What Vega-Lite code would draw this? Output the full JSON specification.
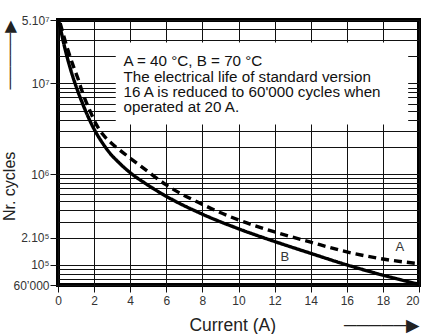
{
  "$schema": "https://vega.github.io/schema/vega-lite/v6.json",
  "width": 361,
  "height": 265,
  "autosize": "none",
  "padding": {"left": 58, "top": 20, "right": 3, "bottom": 49},
  "config": {
    "view": {"stroke": "#000", "strokeWidth": 4},
    "font": "Liberation Sans",
    "axis": {"labelOverlap": false}
  },
  "datasets": {
    "curves": [
      {"current": 0.03, "cycles": 50000000, "curve": "B"},
      {"current": 0.19, "cycles": 35900000, "curve": "B"},
      {"current": 0.36, "cycles": 25400000, "curve": "B"},
      {"current": 0.58, "cycles": 17200000, "curve": "B"},
      {"current": 0.82, "cycles": 11900000, "curve": "B"},
      {"current": 1.08, "cycles": 8400000, "curve": "B"},
      {"current": 1.38, "cycles": 5860000, "curve": "B"},
      {"current": 1.69, "cycles": 4200000, "curve": "B"},
      {"current": 2.02, "cycles": 3080000, "curve": "B"},
      {"current": 2.41, "cycles": 2290000, "curve": "B"},
      {"current": 2.86, "cycles": 1720000, "curve": "B"},
      {"current": 3.41, "cycles": 1320000, "curve": "B"},
      {"current": 3.97, "cycles": 1050000, "curve": "B"},
      {"current": 4.8, "cycles": 800000, "curve": "B"},
      {"current": 6, "cycles": 570000, "curve": "B"},
      {"current": 8, "cycles": 362000, "curve": "B"},
      {"current": 10, "cycles": 250000, "curve": "B"},
      {"current": 12, "cycles": 181000, "curve": "B"},
      {"current": 14, "cycles": 134000, "curve": "B"},
      {"current": 16, "cycles": 100000, "curve": "B"},
      {"current": 18, "cycles": 77000, "curve": "B"},
      {"current": 20, "cycles": 61000, "curve": "B"},
      {"current": 0.12, "cycles": 46000000, "curve": "A"},
      {"current": 0.54, "cycles": 23600000, "curve": "A"},
      {"current": 0.82, "cycles": 16100000, "curve": "A"},
      {"current": 1.1, "cycles": 11400000, "curve": "A"},
      {"current": 1.38, "cycles": 7730000, "curve": "A"},
      {"current": 1.75, "cycles": 5100000, "curve": "A"},
      {"current": 2.12, "cycles": 3540000, "curve": "A"},
      {"current": 2.48, "cycles": 2750000, "curve": "A"},
      {"current": 2.95, "cycles": 2200000, "curve": "A"},
      {"current": 3.41, "cycles": 1850000, "curve": "A"},
      {"current": 4, "cycles": 1500000, "curve": "A"},
      {"current": 5, "cycles": 1060000, "curve": "A"},
      {"current": 6, "cycles": 760000, "curve": "A"},
      {"current": 8, "cycles": 464000, "curve": "A"},
      {"current": 10, "cycles": 313000, "curve": "A"},
      {"current": 12, "cycles": 231000, "curve": "A"},
      {"current": 14, "cycles": 178000, "curve": "A"},
      {"current": 16, "cycles": 139000, "curve": "A"},
      {"current": 18, "cycles": 116000, "curve": "A"},
      {"current": 20, "cycles": 103000, "curve": "A"}
    ],
    "labels": [
      {"current": 18.94, "cycles": 157000, "name": "A"},
      {"current": 12.56, "cycles": 122000, "name": "B"}
    ]
  },
  "layer": [
    {
      "data": {"name": "curves"},
      "mark": {"type": "line", "interpolate": "monotone", "color": "#000", "strokeWidth": 3.4},
      "encoding": {
        "x": {
          "field": "current",
          "type": "quantitative",
          "scale": {"domain": [0, 20], "nice": false, "zero": false},
          "axis": {
            "values": [0, 2, 4, 6, 8, 10, 12, 14, 16, 18, 20],
            "tickCount": 30,
            "format": "d",
            "grid": true,
            "gridColor": "#111",
            "gridWidth": 1,
            "domain": false,
            "tickColor": "#111",
            "tickSize": 7,
            "tickWidth": 1,
            "labelFontSize": 12,
            "labelColor": "#333",
            "labelPadding": 3,
            "labelFlush": false,
            "labelOverlap": false,
            "labelAlign": {"condition": {"test": "datum.value == 20", "value": "right"}, "value": "center"},
            "title": "Current (A)\u00a0\u00a0\u00a0\u00a0\u00a0\u00a0\u00a0\u00a0\u00a0\u00a0\u00a0\u00a0\u00a0\u00a0─────▶",
            "titleFont": "Liberation Sans, DejaVu Sans",
            "titleFontSize": 17.5,
            "titleFontWeight": "normal",
            "titleColor": "#222",
            "titleAnchor": "end",
            "titlePadding": 10
          }
        },
        "y": {
          "field": "cycles",
          "type": "quantitative",
          "scale": {"type": "log", "domain": [60000, 50000000], "nice": false},
          "axis": {
            "values": [60000, 70000, 80000, 90000, 100000, 200000, 300000, 400000, 500000, 600000, 700000, 800000, 900000, 1000000, 2000000, 3000000, 4000000, 5000000, 6000000, 7000000, 8000000, 9000000, 10000000, 20000000, 30000000, 40000000, 50000000],
            "grid": true,
            "gridColor": "#111",
            "gridWidth": 1,
            "domain": false,
            "tickColor": "#111",
            "tickSize": 8,
            "tickOpacity": {"condition": {"test": "indexof([60000, 100000, 200000, 1000000, 10000000, 50000000], datum.value) >= 0", "value": 1}, "value": 0},
            "labelExpr": "datum.value == 50000000 ? '5.10⁷' : datum.value == 10000000 ? '10⁷' : datum.value == 1000000 ? '10⁶' : datum.value == 200000 ? '2.10⁵' : datum.value == 100000 ? '10⁵' : datum.value == 60000 ? '60’000' : ''",
            "labelFontSize": 12,
            "labelColor": "#333",
            "labelPadding": 1,
            "labelOverlap": false,
            "labelBound": false,
            "title": "Nr. cycles\u00a0\u00a0\u00a0\u00a0\u00a0\u00a0\u00a0\u00a0\u00a0\u00a0\u00a0\u00a0\u00a0\u00a0─────▶",
            "titleFont": "Liberation Sans, DejaVu Sans",
            "titleFontSize": 16,
            "titleFontWeight": "normal",
            "titleColor": "#222",
            "titleAnchor": "end",
            "titlePadding": -5
          }
        },
        "detail": {"field": "curve"},
        "strokeDash": {
          "field": "curve",
          "type": "nominal",
          "scale": {"domain": ["A", "B"], "range": [[8, 5], [1, 0]]},
          "legend": null
        }
      }
    },
    {
      "data": {"values": [{}]},
      "mark": {"type": "rect", "fill": "#ffffff"},
      "encoding": {
        "x": {"datum": 3.2, "type": "quantitative"},
        "x2": {"datum": 19.4},
        "y": {"datum": 3520000, "type": "quantitative"},
        "y2": {"datum": 28300000}
      }
    },
    {
      "data": {"values": [{}]},
      "mark": {
        "type": "text",
        "text": ["A = 40 °C, B = 70 °C", "The electrical life of standard version", "16 A is reduced to 60'000 cycles when", "operated at 20 A."],
        "align": "left",
        "baseline": "top",
        "fontSize": 15.2,
        "lineHeight": 15.4,
        "color": "#111"
      },
      "encoding": {
        "x": {"datum": 3.63, "type": "quantitative"},
        "y": {"datum": 21000000, "type": "quantitative"}
      }
    },
    {
      "data": {"name": "labels"},
      "mark": {"type": "text", "fontSize": 13, "color": "#333", "align": "center", "baseline": "middle"},
      "encoding": {
        "x": {"field": "current", "type": "quantitative"},
        "y": {"field": "cycles", "type": "quantitative"},
        "text": {"field": "name"}
      }
    }
  ]
}
